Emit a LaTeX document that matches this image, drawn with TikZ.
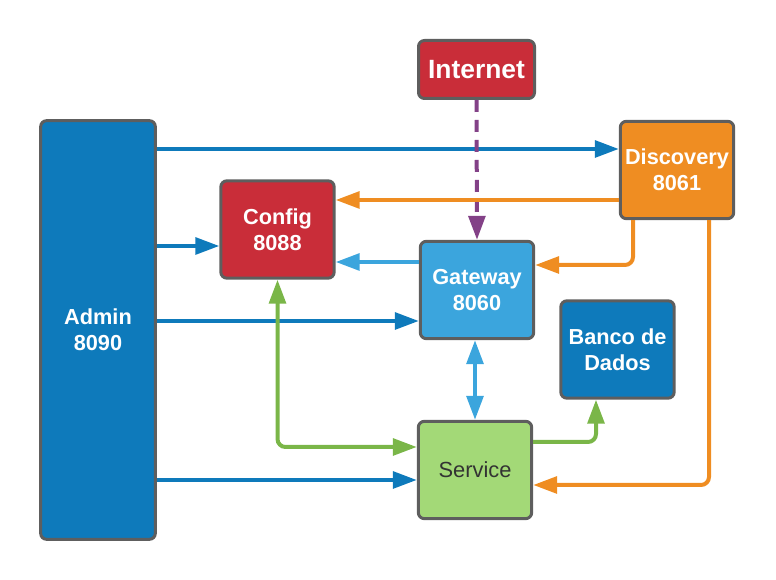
\documentclass[tikz,border=0pt]{standalone}
\usepackage{fontspec}
\setmainfont{Liberation Sans}
\usetikzlibrary{arrows.meta}
\definecolor{boxgray}{HTML}{5E5E5E}
\definecolor{adminblue}{HTML}{0E7ABB}
\definecolor{lightblue}{HTML}{3BA5DD}
\definecolor{cfgred}{HTML}{C92D39}
\definecolor{discorange}{HTML}{EF8D22}
\definecolor{svcgreen}{HTML}{A3D977}
\definecolor{linegreen}{HTML}{7AB648}
\definecolor{netpurple}{HTML}{834187}
\tikzset{
  svcbox/.style={draw=boxgray, line width=2.25pt, rounded corners=4.5pt,
    minimum width=85pt, minimum height=73pt, inner sep=0pt, align=center,
    text=white, font=\fontsize{16.3pt}{19.5pt}\selectfont\bfseries},
  link/.style={line width=3pt, ->},
  >={Triangle[length=18pt,width=12.5pt]}
}
\begin{document}
\begin{tikzpicture}[x=0.75pt,y=-0.75pt]
        \useasboundingbox (0,0) rectangle (776,580);
        % boxes
        \node[svcbox, fill=adminblue, minimum width=86pt, minimum height=314pt] (admin) at (98,330) {Admin\\8090};
        \node[svcbox, fill=cfgred, minimum width=87pt, minimum height=43.5pt,
              font=\fontsize{19.8pt}{23pt}\selectfont\bfseries] (internet) at (476.5,69.5) {Internet};
        \node[svcbox, fill=discorange] (disc) at (677,170) {Discovery\\8061};
        \node[svcbox, fill=cfgred] (config) at (277.5,229.5) {Config\\8088};
        \node[svcbox, fill=lightblue] (gateway) at (477,290) {Gateway\\8060};
        \node[svcbox, fill=adminblue] (banco) at (617.5,349.5) {Banco de\\Dados};
        \node[svcbox, fill=svcgreen, text=black!80,
              font=\fontsize{16.4pt}{19.5pt}\selectfont] (service) at (475,470) {Service};
        % Admin links
        \draw[link, adminblue] (admin.east |- 0,149) -- (disc.west |- 0,149);
        \draw[link, adminblue] (admin.east |- 0,246) -- (config.west |- 0,246);
        \draw[link, adminblue] (admin.east |- 0,321) -- (gateway.west |- 0,321);
        \draw[link, adminblue] (admin.east |- 0,480) -- (service.west |- 0,480);
        % Internet
        \draw[link, netpurple, dash pattern=on 9pt off 6pt] (internet.south) -- (gateway.north);
        % Discovery links
        \draw[link, discorange] (disc.west |- 0,200) -- (config.east |- 0,200);
        \draw[link, discorange, rounded corners=6pt] (disc.south -| 633,0) |- (gateway.east |- 0,265);
        \draw[link, discorange, rounded corners=6pt] (disc.south -| 709,0) |- (service.east |- 0,485);
        % Gateway links
        \draw[link, lightblue] (gateway.west |- 0,262) -- (config.east |- 0,262);
        \draw[link, lightblue, <->] (gateway.south -| 475,0) -- (service.north);
        % Service links
        \draw[link, linegreen, <->, rounded corners=6pt] (config.south) |- (service.west |- 0,447);
        \draw[link, linegreen, rounded corners=6pt] (service.east |- 0,442) -| (banco.south -| 596,0);
    \end{tikzpicture}
\end{document}
